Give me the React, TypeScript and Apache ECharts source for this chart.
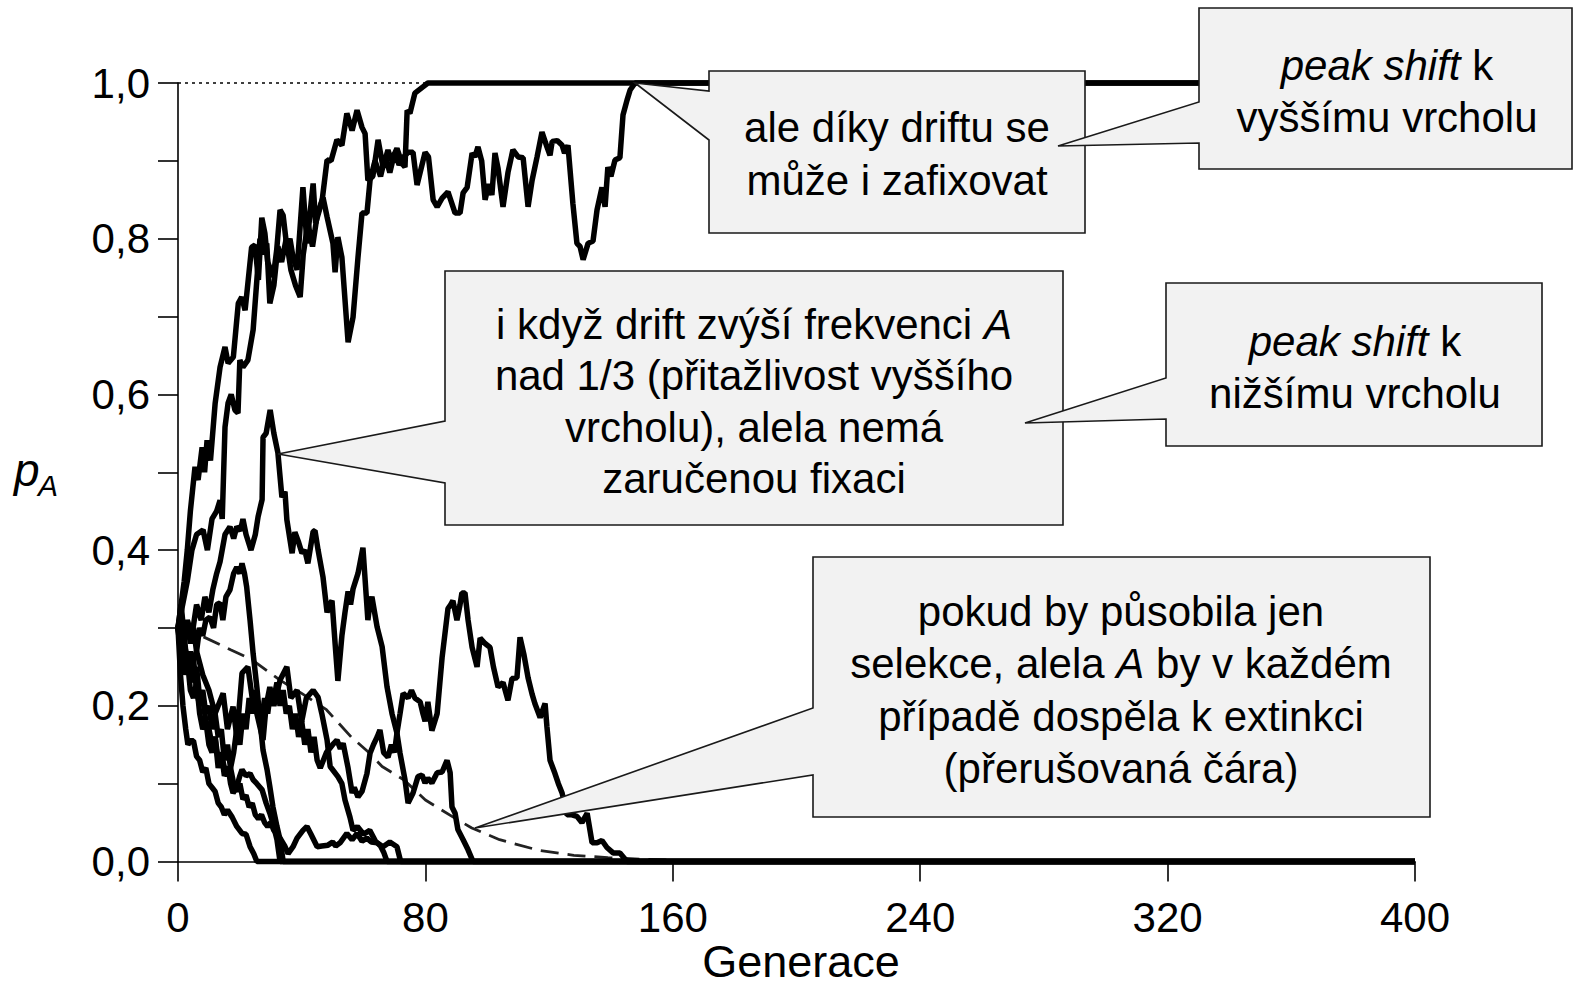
import React, { useEffect, useRef } from 'react';
import * as echarts from 'echarts';

type Pt = [number, number];

// generations vs. frequency of allele A
const fixEarly: Pt[] = [[0,0.30],[1,0.33],[2,0.36],[3,0.40],[4,0.45],[5.5,0.507],[6.5,0.49],[7.8,0.532],[8.6,0.50],[9.4,0.541],[10.5,0.515],[12,0.588],[13.6,0.635],[15.2,0.661],[16.2,0.64],[17.9,0.648],[19.5,0.717],[20.6,0.725],[21.7,0.708],[23.8,0.789],[24.9,0.792],[26,0.747],[27.1,0.827],[28.1,0.807],[29,0.77],[30.8,0.751],[31.9,0.785],[33,0.837],[34,0.83],[35.2,0.789],[36.2,0.80],[37.2,0.776],[38.5,0.76],[40.4,0.866],[41.7,0.794],[43.7,0.871],[44.5,0.82],[46.6,0.849],[48.2,0.901],[49.5,0.90],[51.4,0.927],[53,0.92],[54.6,0.961],[56.3,0.939],[57.9,0.965],[59.5,0.943],[60.5,0.935],[61.4,0.875],[63,0.88],[64.7,0.927],[66.3,0.892],[67.9,0.914],[69,0.90],[70.8,0.916],[72.4,0.897],[73.4,0.892],[74.1,0.965],[75,0.961],[76.6,0.987],[79.2,0.995],[80.8,1],[400,1]];

const fixLate: Pt[] = [[0,0.30],[1.5,0.33],[3,0.36],[4.5,0.40],[6,0.42],[8.1,0.426],[9.5,0.40],[11,0.44],[12.5,0.45],[13.6,0.464],[14.3,0.44],[15.2,0.558],[16.2,0.589],[17.2,0.60],[18.4,0.58],[19.4,0.576],[20,0.644],[21,0.635],[22.6,0.644],[24.3,0.683],[25.5,0.747],[26.5,0.80],[27.5,0.78],[28.7,0.794],[29.7,0.717],[31,0.74],[32.3,0.79],[33.5,0.77],[35,0.80],[36.5,0.76],[38,0.74],[39.5,0.725],[40.5,0.78],[42,0.82],[43.5,0.79],[45,0.83],[46.9,0.853],[48.2,0.828],[50.1,0.794],[50.8,0.757],[51.7,0.802],[53,0.776],[55,0.667],[56.6,0.699],[58.2,0.776],[59.5,0.833],[61.1,0.833],[62.1,0.875],[63.7,0.90],[65.5,0.88],[67,0.905],[68.5,0.885],[70,0.91],[71.5,0.895],[73,0.905],[74.4,0.911],[76,0.911],[77.3,0.869],[79.9,0.911],[81,0.905],[82.5,0.85],[83.8,0.841],[85.4,0.852],[87.3,0.86],[89.6,0.833],[91.2,0.833],[92.2,0.859],[93.5,0.866],[95.1,0.91],[96,0.905],[97,0.918],[98.2,0.90],[99.3,0.85],[100.5,0.87],[101.5,0.856],[102.5,0.91],[103.5,0.89],[105.1,0.841],[106.7,0.885],[108.3,0.914],[110,0.905],[111.6,0.904],[113.2,0.841],[114.5,0.875],[116.1,0.905],[117.7,0.937],[119.3,0.918],[120.3,0.907],[121,0.925],[122.6,0.926],[124.2,0.92],[125,0.91],[126.1,0.92],[127.7,0.845],[129,0.794],[130,0.79],[131,0.773],[132.6,0.794],[134.2,0.797],[135.5,0.837],[137.1,0.866],[138.1,0.841],[139,0.892],[140,0.88],[141.3,0.901],[142.9,0.904],[143.9,0.959],[145.2,0.978],[146.2,0.991],[147.8,1],[400,1]];

const peakRun: Pt[] = [[0,0.30],[1.5,0.27],[3,0.31],[4.5,0.29],[6,0.33],[7.5,0.31],[8.7,0.34],[10,0.32],[11.3,0.35],[12.5,0.37],[13.6,0.385],[15.2,0.42],[16.8,0.43],[18,0.415],[19,0.43],[20.2,0.425],[21,0.44],[22,0.42],[23.6,0.40],[25,0.42],[25.9,0.443],[27.2,0.465],[27.5,0.545],[28.5,0.55],[29.8,0.58],[31,0.55],[32.3,0.525],[33.6,0.468],[34.6,0.475],[35.2,0.439],[36.9,0.396],[37.8,0.423],[39,0.41],[40.1,0.396],[41,0.40],[42,0.383],[43.7,0.424],[44.3,0.425],[45.3,0.40],[46.9,0.365],[48.2,0.32],[49,0.33],[49.8,0.335],[50.8,0.28],[51.7,0.232],[53,0.29],[54,0.32],[55,0.347],[55.8,0.33],[56.6,0.35],[58.2,0.37],[59.8,0.403],[61.4,0.31],[62,0.33],[62.7,0.34],[64.4,0.301],[66,0.276],[67.6,0.224],[69.2,0.19],[70.8,0.165],[71.8,0.139],[73.4,0.105],[74.4,0.075],[76,0.088],[77.6,0.109],[78.9,0.111],[79.9,0.101],[80.8,0.107],[82.1,0.101],[83.8,0.114],[85.4,0.115],[87,0.13],[88,0.114],[88.6,0.07],[89.6,0.062],[90.5,0.041],[92.2,0.028],[93.8,0.015],[95.4,0],[400,0]];

const longRun: Pt[] = [[0,0.30],[1,0.26],[2,0.29],[3,0.25],[4,0.27],[5,0.23],[6,0.25],[7,0.21],[8,0.22],[9,0.19],[10,0.2],[11,0.17],[12,0.19],[13,0.16],[14,0.17],[15,0.13],[16,0.15],[17,0.12],[18,0.14],[19,0.17],[20,0.15],[21,0.19],[22,0.17],[23,0.21],[24,0.19],[25,0.22],[26,0.20],[27,0.18],[28,0.21],[29,0.19],[30,0.22],[31,0.21],[32,0.23],[33,0.20],[34,0.22],[35,0.19],[36,0.2],[37,0.17],[38,0.19],[39,0.16],[40,0.18],[41,0.15],[42,0.17],[43,0.14],[44,0.16],[45,0.13],[46,0.12],[48,0.14],[50,0.15],[51.4,0.156],[52.5,0.145],[53.4,0.152],[55,0.12],[56.3,0.088],[57,0.095],[58.2,0.083],[59.5,0.09],[61.1,0.113],[62.1,0.139],[63.2,0.15],[64.4,0.16],[65.3,0.169],[66.5,0.14],[67.9,0.134],[69,0.15],[70,0.14],[70.8,0.165],[71.8,0.19],[72.8,0.216],[74.4,0.21],[75.5,0.22],[76.6,0.21],[78.3,0.205],[79.2,0.19],[79.9,0.18],[80.8,0.205],[82.1,0.168],[83.8,0.19],[85.4,0.262],[87.3,0.325],[88.2,0.33],[88.9,0.335],[90.2,0.31],[91.2,0.33],[91.8,0.345],[92.8,0.345],[93.8,0.31],[95.1,0.275],[96.7,0.25],[97.7,0.287],[99.3,0.28],[100.9,0.275],[102,0.25],[103.5,0.224],[105.1,0.23],[106.7,0.207],[108,0.235],[109.6,0.236],[110.6,0.288],[111.9,0.265],[113.2,0.236],[114.5,0.215],[115.4,0.203],[117.1,0.185],[118.7,0.203],[119.3,0.173],[120.3,0.13],[121.9,0.113],[123,0.1],[124.2,0.088],[125.8,0.06],[127.4,0.06],[129,0.058],[130.6,0.05],[132.3,0.062],[133.9,0.024],[135.5,0.024],[137.1,0.027],[138.7,0.018],[140.7,0.011],[142.9,0.011],[145.2,0],[400,0]];

const steepRun: Pt[] = [[0,0.30],[1,0.33],[2,0.29],[3,0.31],[4,0.28],[5,0.30],[6,0.27],[7,0.30],[8,0.29],[9,0.31],[10.3,0.314],[11.5,0.30],[12.5,0.33],[13.6,0.332],[14.5,0.31],[15.5,0.34],[16.8,0.349],[18,0.37],[19,0.378],[20,0.37],[20.7,0.383],[21.5,0.37],[22.2,0.353],[23.3,0.31],[24.3,0.267],[25.5,0.224],[26.5,0.182],[27.5,0.143],[28.8,0.118],[29.7,0.096],[30.7,0.07],[32,0.045],[33,0.028],[34,0],[400,0]];

const fastLoss: Pt[] = [[0,0.30],[0.8,0.24],[1.6,0.20],[2.5,0.17],[3.2,0.15],[4,0.155],[5,0.155],[6,0.135],[7,0.13],[8,0.115],[9,0.12],[10,0.10],[11,0.095],[12,0.09],[13,0.075],[14,0.07],[15,0.06],[16,0.066],[17.5,0.057],[19,0.045],[20.7,0.036],[22,0.035],[23.3,0.019],[24.5,0.01],[25.5,0],[400,0]];

const loss33: Pt[] = [[0,0.30],[1,0.27],[2,0.24],[3,0.26],[4,0.22],[5,0.21],[6,0.23],[7,0.19],[8,0.17],[9,0.18],[10,0.15],[11,0.14],[12,0.16],[13,0.12],[14,0.14],[15,0.11],[16.2,0.122],[17,0.10],[17.8,0.088],[19,0.096],[20,0.11],[20.7,0.118],[22,0.11],[23.3,0.113],[24.3,0.105],[25.5,0.1],[27.2,0.092],[28.5,0.075],[29.7,0.062],[30.7,0.049],[32,0.028],[33,0],[400,0]];

const lowRun: Pt[] = [[0,0.30],[1,0.32],[2,0.28],[3,0.26],[4,0.24],[5,0.26],[6,0.22],[7,0.2],[8,0.21],[9,0.18],[10,0.17],[11,0.15],[12,0.16],[13,0.13],[14,0.14],[15,0.12],[16,0.11],[17,0.12],[18,0.10],[19,0.09],[20,0.10],[21,0.08],[22,0.085],[23,0.07],[24,0.075],[25,0.06],[26,0.055],[27,0.06],[28,0.05],[29,0.045],[30,0.05],[31,0.04],[32,0.035],[33,0.03],[34.5,0.02],[35.6,0.01],[37.2,0.019],[38.5,0.03],[40.4,0.04],[41.7,0.045],[43,0.035],[45,0.019],[46.5,0.02],[48.5,0.021],[50,0.025],[51,0.02],[52.4,0.024],[54.6,0.036],[56.3,0.028],[57.9,0.036],[59.5,0.026],[61.1,0.03],[62.5,0.025],[64.4,0.024],[65.5,0.02],[66.5,0.012],[67.6,0],[400,0]];

const loss72: Pt[] = [[0,0.30],[2,0.27],[4,0.25],[6,0.27],[8,0.24],[10,0.22],[12,0.19],[14.6,0.216],[16,0.17],[17.8,0.199],[19,0.16],[20.7,0.242],[22.6,0.25],[24,0.21],[25.5,0.19],[27.5,0.156],[28.5,0.20],[29.7,0.224],[31,0.20],[33,0.233],[35.2,0.25],[36.5,0.21],[38.5,0.22],[40,0.18],[41.5,0.21],[43.7,0.22],[45.3,0.211],[46.5,0.19],[48.2,0.156],[49.2,0.122],[51.7,0.109],[53,0.10],[54,0.079],[55.6,0.057],[56.6,0.04],[58,0.045],[60,0.035],[62,0.04],[64,0.025],[66.3,0.019],[68.5,0.025],[70.8,0.019],[72,0],[400,0]];

// deterministic course under selection only (dashed)
const selectionOnly: Pt[] = [[0,0.30],[8,0.289],[17,0.272],[24,0.259],[33,0.233],[40,0.216],[48,0.195],[56,0.16],[62,0.139],[66,0.122],[73,0.105],[80,0.079],[89,0.057],[95,0.043],[104,0.028],[117,0.014],[128,0.008],[139,0.005],[150,0.003],[165,0.001],[180,0],[400,0]];

const fixedLine: Pt[] = [[0, 1], [400, 1]];

const xTicks = { min: 0, max: 400, step: 80 };
const yTicks = { min: 0, max: 1, step: 0.1 };

const runs: Pt[][] = [lowRun, fastLoss, loss33, steepRun, loss72, longRun, peakRun, fixLate, fixEarly];

const FONT = '"Liberation Sans", Arial, Helvetica, sans-serif';

function callout(box: number[], baseTop: number, baseBot: number, tip: number[]) {
  const [x0, y0, x1, y1] = box;
  return {
    type: 'polygon',
    z: 50,
    shape: { points: [[x0, y0], [x1, y0], [x1, y1], [x0, y1], [x0, baseBot], tip, [x0, baseTop]] },
    style: { fill: '#f2f2f2', stroke: '#1a1a1a', lineWidth: 1.6 },
  };
}

function line(text: string, x: number, y: number, size = 42) {
  return {
    type: 'text',
    z: 60,
    style: {
      text, x, y,
      fill: '#000',
      fontSize: size,
      fontFamily: FONT,
      align: 'center', verticalAlign: 'middle',
      textAlign: 'center', textVerticalAlign: 'middle',
      rich: { i: { fontStyle: 'italic', fontSize: size, fontFamily: FONT, fill: '#000' } },
    },
  };
}

export default function App() {
  const ref = useRef<HTMLDivElement>(null);
  useEffect(() => {
    const chart = echarts.init(ref.current!, null, { renderer: 'svg' });
    const series: any[] = [
      {
        type: 'line', data: fixedLine, showSymbol: false, clip: false, silent: true,
        lineStyle: { color: '#000', width: 1.6, type: [3, 4] }, z: 1,
      },
      {
        type: 'line', data: selectionOnly, showSymbol: false, clip: false, silent: true,
        lineStyle: { color: '#222', width: 2.8, type: [18, 9] }, z: 2,
      },
      ...runs.map((d) => ({
        type: 'line', data: d, showSymbol: false, clip: false, silent: true,
        lineStyle: { color: '#000', width: 5.5 }, z: 3,
      })),
    ];
    const option: any = {
      animation: false,
      grid: { left: 178, top: 83, width: 1237, height: 778.5 },
      xAxis: {
        type: 'value', min: xTicks.min, max: xTicks.max, interval: xTicks.step,
        axisLine: { lineStyle: { color: '#000', width: 1.6 } },
        axisTick: { length: 20, lineStyle: { color: '#000', width: 1.6 } },
        axisLabel: { margin: 35, color: '#000', fontSize: 42, fontFamily: FONT },
        splitLine: { show: false },
      },
      yAxis: {
        type: 'value', min: yTicks.min, max: yTicks.max, interval: yTicks.step,
        axisLine: { show: true, lineStyle: { color: '#000', width: 1.6 } },
        axisTick: { show: true, length: 20, lineStyle: { color: '#000', width: 1.6 } },
        axisLabel: {
          margin: 28, color: '#000', fontSize: 42, fontFamily: FONT,
          formatter: (v: number) => {
            const k = Math.round(v * 10);
            return k % 2 === 0 ? (k / 10).toFixed(1).replace('.', ',') : '';
          },
        },
        splitLine: { show: false },
      },
      series,
      graphic: [
        {
          type: 'text', z: 60,
          style: { text: 'Generace', x: 801, y: 961, fill: '#000', fontSize: 45, fontFamily: FONT,
            align: 'center', verticalAlign: 'middle', textAlign: 'center', textVerticalAlign: 'middle' },
        },
        {
          type: 'text', z: 60,
          style: { text: 'p', x: 14, y: 470, fill: '#000', fontSize: 46, fontStyle: 'italic', fontFamily: FONT,
            align: 'left', verticalAlign: 'middle', textAlign: 'left', textVerticalAlign: 'middle' },
        },
        {
          type: 'text', z: 60,
          style: { text: 'A', x: 38, y: 485, fill: '#000', fontSize: 30, fontStyle: 'italic', fontFamily: FONT,
            align: 'left', verticalAlign: 'middle', textAlign: 'left', textVerticalAlign: 'middle' },
        },
        callout([709, 71, 1085, 233], 91, 140, [635, 83]),
        line('ale díky driftu se', 897, 127.5),
        line('může i zafixovat', 897, 180),
        callout([1199, 8, 1572, 169], 102, 143, [1058, 146]),
        line('{i|peak shift} k', 1387, 65),
        line('vyššímu vrcholu', 1387, 117.5),
        callout([445, 271, 1063, 525], 421, 483, [278, 454]),
        line('i když drift zvýší frekvenci {i|A}', 754, 324),
        line('nad 1/3 (přitažlivost vyššího', 754, 375.5),
        line('vrcholu), alela nemá', 754, 427),
        line('zaručenou fixaci', 754, 478),
        callout([1166, 283, 1542, 446], 378, 419, [1025, 423]),
        line('{i|peak shift} k', 1355, 341),
        line('nižšímu vrcholu', 1355, 393.5),
        callout([813, 557, 1430, 817], 708, 775, [475, 828]),
        line('pokud by působila jen', 1121, 611),
        line('selekce, alela {i|A} by v každém', 1121, 663.5),
        line('případě dospěla k extinkci', 1121, 716),
        line('(přerušovaná čára)', 1121, 768),
      ],
    };
    chart.setOption(option);
    return () => chart.dispose();
  }, []);
  return (
    <div
      ref={ref}
      style={{ position: 'fixed', left: 0, top: 0, width: 1574, height: 986, background: '#fff' }}
    />
  );
}
